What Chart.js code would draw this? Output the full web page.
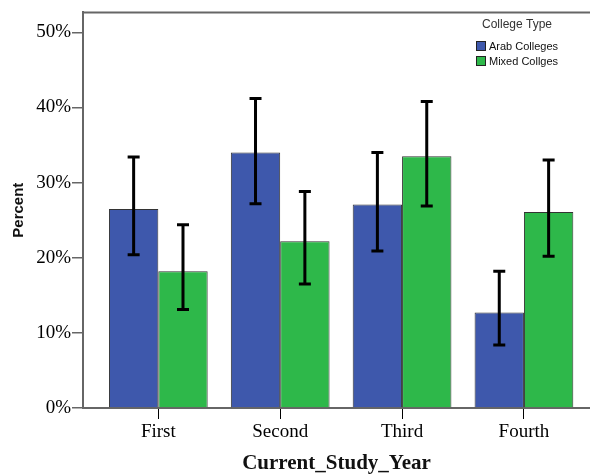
<!DOCTYPE html>
<html>
<head>
<meta charset="utf-8">
<title>Current Study Year by College Type</title>
<script src="https://cdn.jsdelivr.net/npm/chart.js@4.4.1/dist/chart.umd.min.js"></script>
<style>
    html, body { margin: 0; padding: 0; background: #fff; }
    #chart-wrap { width: 590px; height: 476px; position: relative; }
</style>
</head>
<body>
<div id="chart-wrap"><canvas id="yearChart"></canvas></div>
<script>
// Data
const categories = ['First', 'Second', 'Third', 'Fourth'];
const arabValues = [26.5, 34.0, 27.1, 12.7];
const arabLow = [20.4, 27.2, 20.9, 8.4];
const arabHigh = [33.4, 41.2, 34.0, 18.2];
const mixedValues = [18.2, 22.2, 33.5, 26.1];
const mixedLow = [13.1, 16.5, 26.9, 20.2];
const mixedHigh = [24.4, 28.8, 40.8, 33.0];
const yTicks = [0, 10, 20, 30, 40, 50];

const LEGEND_TITLE = 'College Type';

// Theme
const ARAB_BLUE = '#3E58AC';
const MIXED_GREEN = '#2EB84A';
const AXIS_GRAY = '#666666';
const SERIF = "'Liberation Serif', 'Times New Roman', serif";
const SANS = "'Liberation Sans', Arial, sans-serif";

// Error bars (whiskers) drawn from the low/high arrays
const errorBarPlugin = {
    id: 'errorBars',
    afterDatasetsDraw(chart) {
        const ctx = chart.ctx;
        const yScale = chart.scales.y;
        ctx.save();
        ctx.strokeStyle = '#000';
        ctx.lineWidth = 3;
        chart.data.datasets.forEach((ds, di) => {
            const meta = chart.getDatasetMeta(di);
            meta.data.forEach((bar, i) => {
                const yHi = yScale.getPixelForValue(ds.errHigh[i]);
                const yLo = yScale.getPixelForValue(ds.errLow[i]);
                const x = bar.x;
                ctx.beginPath();
                ctx.moveTo(x, yHi);
                ctx.lineTo(x, yLo);
                ctx.moveTo(x - 6, yHi);
                ctx.lineTo(x + 6, yHi);
                ctx.moveTo(x - 6, yLo);
                ctx.lineTo(x + 6, yLo);
                ctx.stroke();
            });
        });
        ctx.restore();
    }
};

// Top frame line + legend inside the plot
const frameLegendPlugin = {
    id: 'frameLegend',
    afterDraw(chart) {
        const ctx = chart.ctx;
        const area = chart.chartArea;
        ctx.save();
        ctx.strokeStyle = AXIS_GRAY;
        ctx.lineWidth = 2;
        ctx.beginPath();
        ctx.moveTo(area.left, area.top);
        ctx.lineTo(area.right, area.top);
        ctx.stroke();

        ctx.fillStyle = '#333';
        ctx.font = '12px ' + SANS;
        ctx.textAlign = 'center';
        ctx.textBaseline = 'middle';
        ctx.fillText(LEGEND_TITLE, 517, 25);

        ctx.textAlign = 'left';
        ctx.font = '11px ' + SANS;
        chart.data.datasets.forEach((ds, i) => {
            const y = 41 + i * 15;
            ctx.fillStyle = ds.backgroundColor;
            ctx.fillRect(476, y, 10, 10);
            ctx.strokeStyle = '#222';
            ctx.lineWidth = 1;
            ctx.strokeRect(476.5, y + 0.5, 9, 9);
            ctx.fillStyle = '#111';
            ctx.fillText(ds.label, 489, y + 5.5);
        });
        ctx.restore();
    }
};

function init() {
    const ctx = document.getElementById('yearChart').getContext('2d');

    new Chart(ctx, {
        type: 'bar',
        data: {
            datasets: [{
                label: 'Arab Colleges',
                data: arabValues.map((v, i) => ({ x: i + 1, y: v })),
                errLow: arabLow,
                errHigh: arabHigh,
                backgroundColor: ARAB_BLUE,
                borderColor: '#333',
                borderWidth: 1
            }, {
                label: 'Mixed Collges',
                data: mixedValues.map((v, i) => ({ x: i + 1, y: v })),
                errLow: mixedLow,
                errHigh: mixedHigh,
                backgroundColor: MIXED_GREEN,
                borderColor: '#333',
                borderWidth: 1
            }]
        },
        options: {
            responsive: true,
            maintainAspectRatio: false,
            animation: false,
            categoryPercentage: 0.81,
            barPercentage: 1,
            layout: {
                padding: { top: 11, right: 0, bottom: 0, left: 0 }
            },
            plugins: {
                legend: { display: false },
                tooltip: { enabled: false }
            },
            scales: {
                x: {
                    type: 'linear',
                    min: 0.382,
                    max: 4.542,
                    offset: false,
                    afterBuildTicks: (scale) => {
                        scale.ticks = categories.map((c, i) => ({ value: i + 1 }));
                    },
                    afterFit: (scale) => { scale.height = 68; },
                    grid: {
                        offset: false,
                        drawOnChartArea: false,
                        tickLength: 11,
                        color: '#000',
                        lineWidth: 1
                    },
                    border: { color: AXIS_GRAY, width: 2 },
                    ticks: {
                        autoSkip: false,
                        maxRotation: 0,
                        padding: 2,
                        color: '#000',
                        font: { family: SERIF, size: 19 },
                        callback: (value) => categories[value - 1]
                    },
                    title: {
                        display: true,
                        text: 'Current_Study_Year',
                        color: '#111',
                        font: { family: SERIF, size: 21, weight: 'bold' },
                        padding: { top: 0, bottom: 0 }
                    }
                },
                y: {
                    min: 0,
                    max: 52.65,
                    afterBuildTicks: (scale) => {
                        scale.ticks = yTicks.map(v => ({ value: v }));
                    },
                    afterFit: (scale) => { scale.width = 83; },
                    grid: {
                        drawOnChartArea: false,
                        tickLength: 11,
                        color: AXIS_GRAY,
                        lineWidth: 1.5
                    },
                    border: { color: AXIS_GRAY, width: 2 },
                    ticks: {
                        padding: 1,
                        color: '#000',
                        font: { family: SERIF, size: 19 },
                        callback: (value) => value + '%'
                    },
                    title: {
                        display: true,
                        text: 'Percent',
                        color: '#111',
                        font: { family: SANS, size: 15, weight: 'bold' },
                        padding: { top: 10, bottom: 0 }
                    }
                }
            }
        },
        plugins: [errorBarPlugin, frameLegendPlugin]
    });
}

document.addEventListener('DOMContentLoaded', init);
</script>
</body>
</html>
